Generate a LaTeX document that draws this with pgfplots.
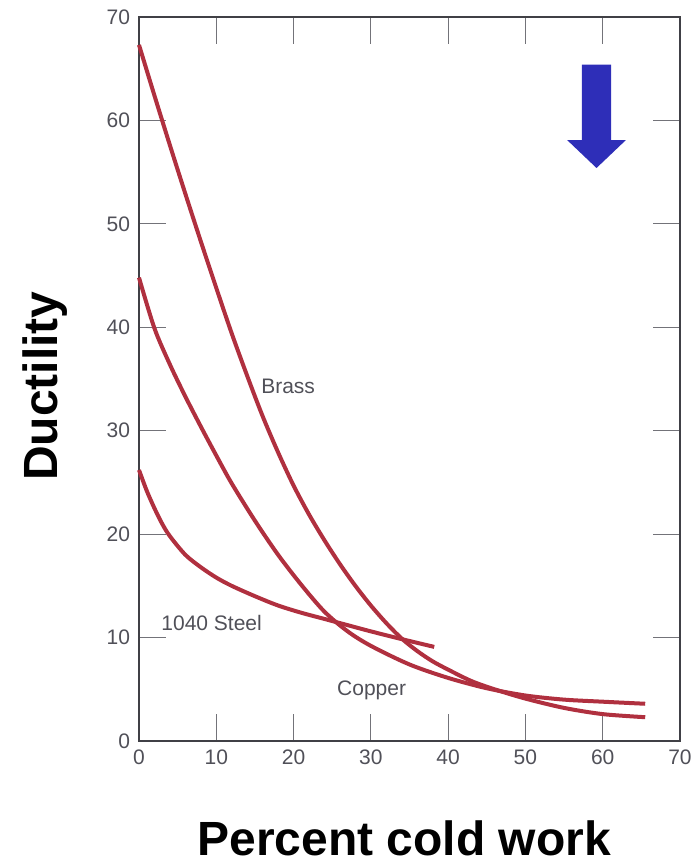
\documentclass[border=0pt]{standalone}
\usepackage{fontspec}
\setmainfont{Liberation Sans}
\usepackage{pgfplots}
\pgfplotsset{compat=1.18}
\definecolor{curve}{HTML}{B0303F}
\definecolor{tickgray}{HTML}{505058}
\definecolor{arrowblue}{HTML}{2E2EB8}
\begin{document}
\begin{tikzpicture}
\useasboundingbox (-69.5pt,-62.5pt) rectangle (279.5pt,370.5pt);
\begin{axis}[
  at={(0,0)}, anchor=south west,
  scale only axis, width=270.5pt, height=362pt,
  xmin=0, xmax=70, ymin=0, ymax=70,
  xtick={0,10,...,70}, ytick={0,10,...,70},
  tick align=inside, major tick length=13.5pt,
  xtick pos=both, ytick pos=both,
  axis line style={draw=tickgray!80!black, line width=0.8pt},
  tick style={draw=tickgray!80, line width=0.6pt},
  /pgf/number format/assume math mode=true,
  tick label style={font=\fontsize{10.5}{12}\selectfont, text=tickgray},
  xticklabel style={yshift=-1pt},
  yticklabel style={xshift=-1pt},
  xlabel={\textbf{Percent cold work}},
  ylabel={\textbf{Ductility}},
  xlabel style={font=\fontsize{24}{28}\selectfont, at={(axis description cs:0.49,0)}, anchor=center, yshift=-48.5pt},
  ylabel style={font=\fontsize{24}{28}\selectfont, at={(axis description cs:-0.174,0.49)}, anchor=center},
  clip=false,
]
% Brass
\addplot[curve, line width=2pt, smooth] coordinates {
 (0,67.3) (2,62.4) (4,57.6) (6,52.9) (8,48.3) (10,43.8) (12,39.4) (14,35.3)
 (16,31.4) (18,27.9) (20,24.7) (22,21.9) (24,19.4) (26,17.1) (28,15.0) (30,13.1)
 (32,11.4) (34,9.9) (36,8.7) (38,7.7) (40,6.9) (43,5.8) (46,5.0) (50,4.1)
 (55,3.2) (60,2.6) (65.5,2.3)};
% Copper
\addplot[curve, line width=2pt, smooth] coordinates {
 (0,44.8) (2,39.9) (4,36.4) (6,33.3) (8,30.4) (10,27.6) (12,24.9) (15,21.3)
 (18,18.0) (21,15.1) (24,12.5) (27,10.6) (30,9.2) (35,7.4) (40,6.1) (45,5.1)
 (50,4.4) (55,4.0) (60,3.8) (65.5,3.6)};
% 1040 Steel
\addplot[curve, line width=2pt, smooth] coordinates {
 (0,26.2) (1,24.2) (2,22.5) (3,21.0) (4,19.8) (6,18.0) (8,16.8) (10,15.8)
 (12,15.0) (15,14.0) (18,13.1) (21,12.4) (24,11.8) (27,11.2) (30,10.6) (34,9.85) (38.2,9.1)};
\node[text=tickgray, font=\fontsize{10.5}{12}\selectfont] at (axis cs:19.3,34.3) {Brass};
\node[text=tickgray, font=\fontsize{10.5}{12}\selectfont] at (axis cs:30.1,4.9) {Copper};
\node[text=tickgray, font=\fontsize{10.5}{12}\selectfont] at (axis cs:9.4,11.4) {1040 Steel};
% arrow annotation
\fill[arrowblue] (axis cs:57.3,65.4) -- (axis cs:61.1,65.4) -- (axis cs:61.1,58.1)
  -- (axis cs:63.0,58.1) -- (axis cs:59.2,55.4) -- (axis cs:55.4,58.1)
  -- (axis cs:57.3,58.1) -- cycle;
\end{axis}
\end{tikzpicture}
\end{document}
